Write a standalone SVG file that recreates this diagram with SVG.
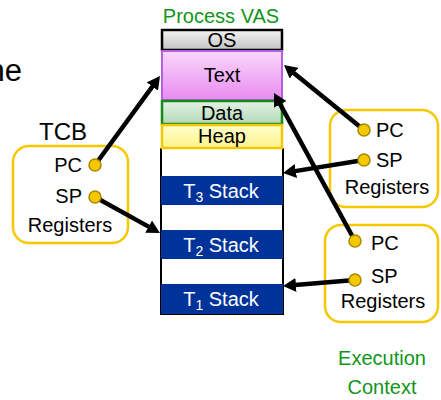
<svg xmlns="http://www.w3.org/2000/svg" width="441" height="400" viewBox="0 0 441 400">
<defs>
<linearGradient id="gOS" x1="0" y1="0" x2="0" y2="1"><stop offset="0" stop-color="#f4f4f4"/><stop offset="1" stop-color="#c2c2c2"/></linearGradient>
<linearGradient id="gText" x1="0" y1="0" x2="0" y2="1"><stop offset="0" stop-color="#f9d8fb"/><stop offset="1" stop-color="#e98af0"/></linearGradient>
<linearGradient id="gData" x1="0" y1="0" x2="0" y2="1"><stop offset="0" stop-color="#e4f3e4"/><stop offset="1" stop-color="#b3d9b6"/></linearGradient>
<linearGradient id="gHeap" x1="0" y1="0" x2="0" y2="1"><stop offset="0" stop-color="#ffffcc"/><stop offset="1" stop-color="#fff38a"/></linearGradient>
<marker id="ah" markerUnits="userSpaceOnUse" markerWidth="13" markerHeight="14" viewBox="0 0 13 14" refX="4" refY="7" orient="auto">
<path d="M0,0 L13,7 L0,14 z" fill="#000"/>
</marker>
<style>
text{font-family:"Liberation Sans",Arial,sans-serif;font-size:20px;fill:#000}
.green{fill:#12951a}
.white{fill:#fff}
.mid{text-anchor:middle}
.end{text-anchor:end}
.ybox{fill:none;stroke:#f7c800;stroke-width:2.5}
.stack{fill:#003399}
.conn{stroke:#000;stroke-width:4.5;fill:none;marker-end:url(#ah)}
.dot{fill:#f5c800;stroke:#a68a00;stroke-width:1.5}
</style>
</defs>
<rect width="441" height="400" fill="#fff"/>
<text x="22" y="81" class="end" style="font-size:31px">ne</text>

<g id="vas">
<text x="221" y="23" class="mid green">Process VAS</text>
<path d="M161,148 V314 H283 V148" fill="none" stroke="#000" stroke-width="2"/>
<rect x="161" y="176" width="122" height="29" class="stack"/>
<rect x="161" y="230" width="122" height="29" class="stack"/>
<rect x="161" y="284" width="122" height="30" class="stack"/>
<text x="221" y="197.5" class="mid white">T<tspan dy="4" style="font-size:14px">3</tspan><tspan dy="-4"> Stack</tspan></text>
<text x="221" y="251.5" class="mid white">T<tspan dy="4" style="font-size:14px">2</tspan><tspan dy="-4"> Stack</tspan></text>
<text x="221" y="305.5" class="mid white">T<tspan dy="4" style="font-size:14px">1</tspan><tspan dy="-4"> Stack</tspan></text>
<rect x="162" y="30" width="120" height="20" fill="url(#gOS)" stroke="#000" stroke-width="2.5"/>
<text x="222" y="47" class="mid">OS</text>
<rect x="162" y="51" width="120" height="49" fill="url(#gText)" stroke="#b65ee0" stroke-width="2"/>
<text x="222" y="82" class="mid">Text</text>
<rect x="162" y="101" width="120" height="23" fill="url(#gData)" stroke="#17881b" stroke-width="2.5"/>
<text x="222" y="120" class="mid">Data</text>
<rect x="162" y="125" width="120" height="23" fill="url(#gHeap)" stroke="#f2c800" stroke-width="2.5"/>
<text x="222" y="143" class="mid">Heap</text>
</g>

<g id="tcb">
<text x="63" y="140" class="mid" style="font-size:24px">TCB</text>
<rect x="13" y="146" width="115" height="97" rx="16" class="ybox"/>
<text x="82" y="172" class="end">PC</text>
<text x="82" y="203" class="end">SP</text>
<text x="70" y="232" class="mid">Registers</text>
</g>

<g id="ctx1">
<rect x="330" y="110" width="108" height="97" rx="16" class="ybox"/>
<text x="376" y="137">PC</text>
<text x="376" y="167">SP</text>
<text x="387" y="194" class="mid">Registers</text>
</g>

<g id="ctx2">
<rect x="325" y="225" width="113" height="97" rx="16" class="ybox"/>
<text x="371" y="250">PC</text>
<text x="371" y="283">SP</text>
<text x="383" y="308" class="mid">Registers</text>
</g>

<g id="ctx-label">
<text x="382" y="365" class="mid green">Execution</text>
<text x="382" y="394" class="mid green">Context</text>
</g>

<g id="connectors">
<line x1="95" y1="165" x2="154.7" y2="83.3" class="conn"/>
<line x1="95" y1="197" x2="152.1" y2="228.6" class="conn"/>
<line x1="364" y1="130" x2="291.0" y2="70.7" class="conn"/>
<line x1="364" y1="160" x2="291.9" y2="171.6" class="conn"/>
<line x1="355" y1="241" x2="278.3" y2="100.9" class="conn"/>
<line x1="355" y1="280" x2="292.0" y2="285.3" class="conn"/>
<circle cx="95" cy="165" r="6" class="dot"/>
<circle cx="95" cy="197" r="6" class="dot"/>
<circle cx="364" cy="130" r="6" class="dot"/>
<circle cx="364" cy="160" r="6" class="dot"/>
<circle cx="355" cy="241" r="6" class="dot"/>
<circle cx="355" cy="280" r="6" class="dot"/>
</g>
</svg>
